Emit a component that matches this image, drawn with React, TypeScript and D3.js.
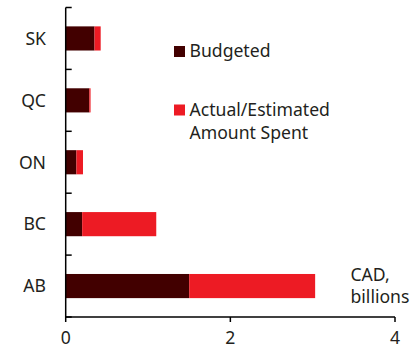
import React from "react";
import * as d3 from "d3";

const provinces = ["SK", "QC", "ON", "BC", "AB"];
const budgeted = [0.35, 0.287, 0.13, 0.2, 1.5];
const actualExtra = [0.075, 0.015, 0.08, 0.9, 1.53];
const xTicks = [0, 2, 4];
const seriesNames = ["Budgeted", "Actual/Estimated Amount Spent"];
const colors = ["#420000", "#ed1b24"];

export default function App() {
  const W = 419, H = 349;
  const x = d3.scaleLinear().domain([0, 4]).range([65.7, 395]);
  const y = d3.scaleBand().domain(provinces).range([7.5, 317]).paddingInner(0.61).paddingOuter(0.305);
  const font = "'Noto Sans', sans-serif";
  const fs = 17.6;
  const txt = "#231f20";
  const stack = provinces.map((p, i) => ({ p, b: budgeted[i], a: actualExtra[i] }));
  return (
    <svg width={W} height={H} style={{ position: "absolute", left: 0, top: 0 }}>
      {stack.map((d) => (
        <g key={d.p}>
          <rect x={x(0)} y={y(d.p)!} width={x(d.b) - x(0)} height={y.bandwidth()} fill={colors[0]} />
          <rect x={x(d.b)} y={y(d.p)!} width={x(d.b + d.a) - x(d.b)} height={y.bandwidth()} fill={colors[1]} />
          <text x={46} y={y(d.p)! + y.bandwidth() / 2} dy="0.36em" textAnchor="end" fontFamily={font} fontSize={fs} fill={txt}>{d.p}</text>
        </g>
      ))}
      {/* y axis */}
      <line x1={x(0)} x2={x(0)} y1={7.5} y2={317} stroke="#000" strokeWidth={1.5} />
      {d3.range(6).map((i) => {
        const yy = 7.5 + (i * (317 - 7.5)) / 5;
        return <line key={i} x1={x(0)} x2={x(0) + 6} y1={yy} y2={yy} stroke="#000" strokeWidth={1.5} />;
      })}
      {/* x axis */}
      <line x1={x(0)} x2={x(4)} y1={317} y2={317} stroke="#000" strokeWidth={1.5} />
      {xTicks.map((t) => (
        <g key={t}>
          <line x1={x(t)} x2={x(t)} y1={317} y2={322} stroke="#000" strokeWidth={1.5} />
          <text x={x(t)} y={343.5} textAnchor="middle" fontFamily={font} fontSize={fs} fill={txt}>{t}</text>
        </g>
      ))}
      <text x={350.5} y={281} fontFamily={font} fontSize={fs} fill={txt}>CAD,</text>
      <text x={350.5} y={303} fontFamily={font} fontSize={fs} fill={txt}>billions</text>
      {/* legend */}
      <rect x={174} y={46} width={11} height={11} fill={colors[0]} />
      <text x={189.5} y={56.5} fontFamily={font} fontSize={fs} fill={txt}>{seriesNames[0]}</text>
      <rect x={174} y={104.5} width={11} height={11} fill={colors[1]} />
      <text x={189.5} y={115.5} fontFamily={font} fontSize={fs} fill={txt}>Actual/Estimated</text>
      <text x={189.5} y={138.5} fontFamily={font} fontSize={fs} fill={txt}>Amount Spent</text>
    </svg>
  );
}
